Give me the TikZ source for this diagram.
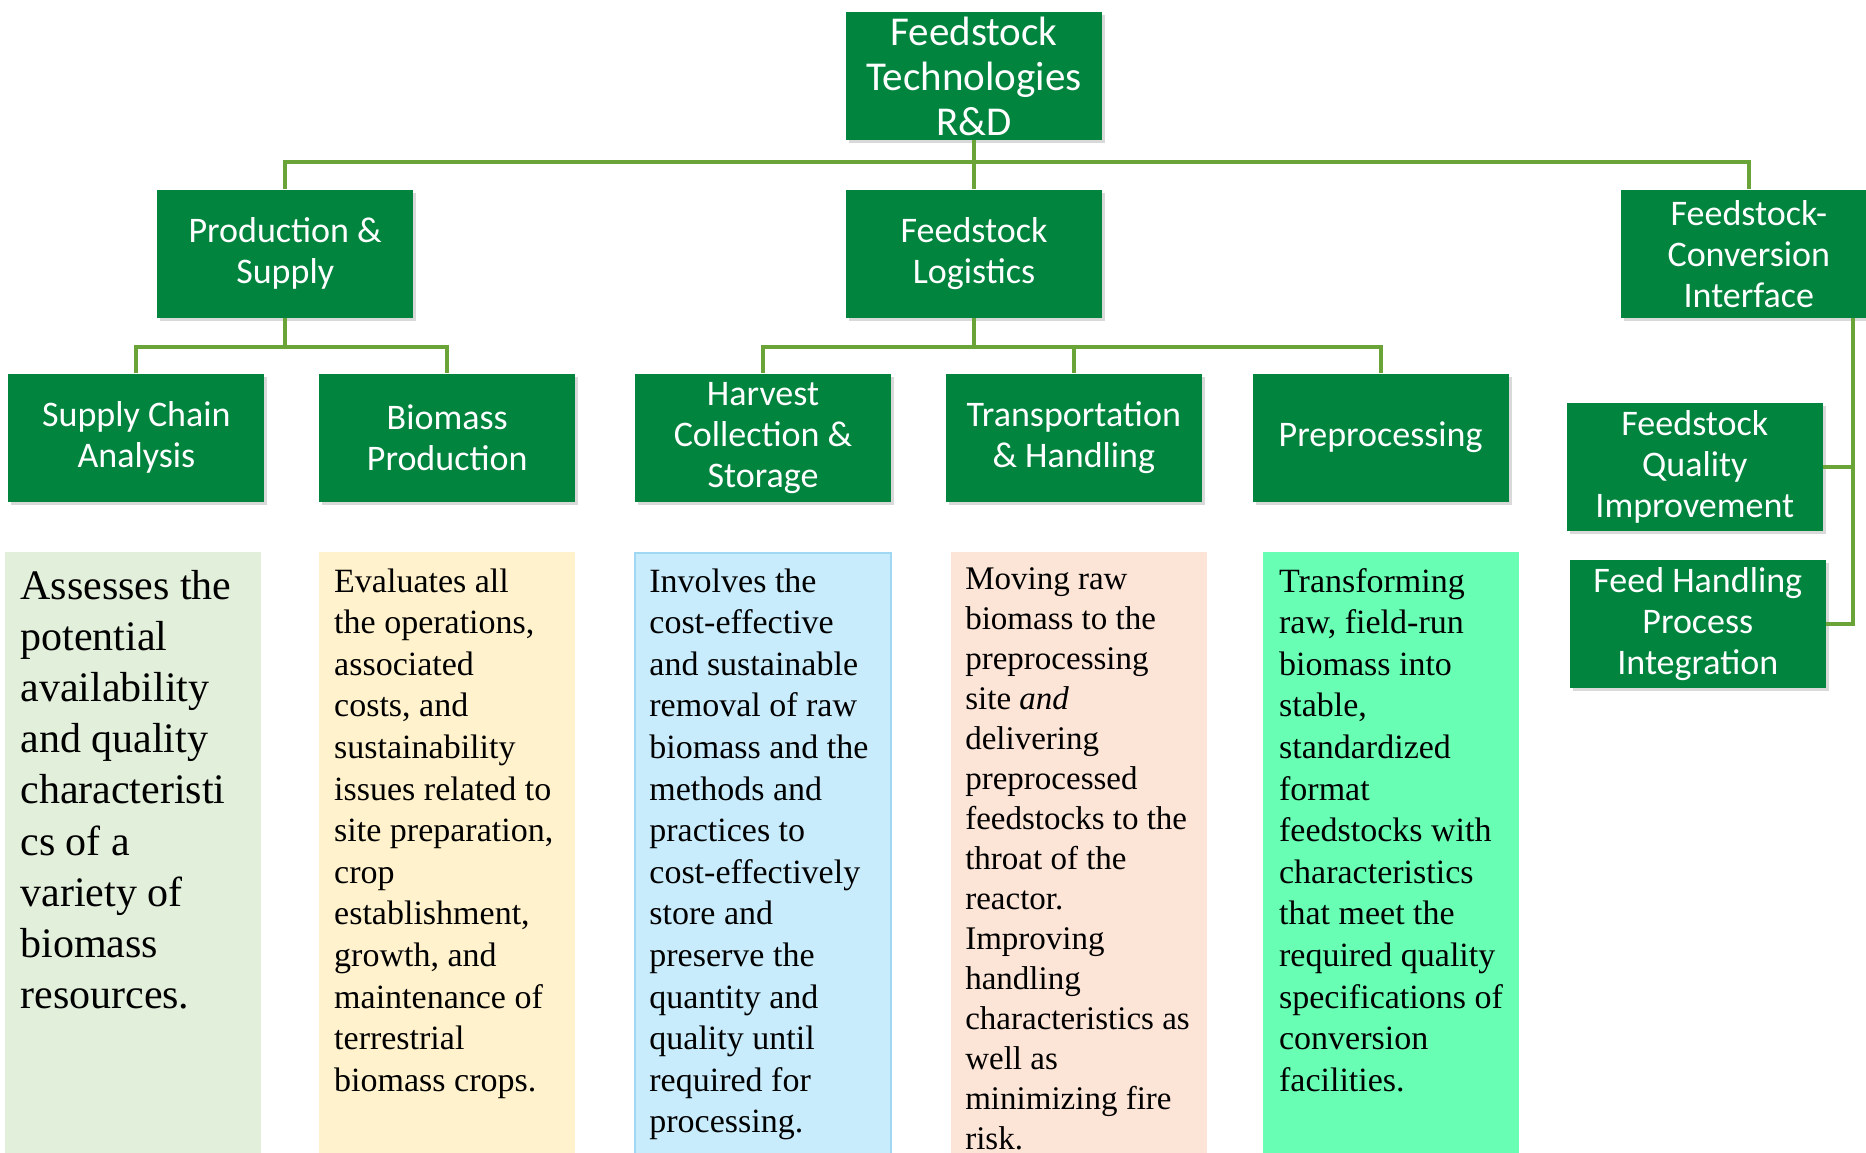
\documentclass[tikz,border=0pt]{standalone}
\usepackage{fontspec}
\setmainfont{Liberation Serif}
\newfontfamily\calfont{Carlito}
\usepackage{xcolor}
\definecolor{boxgreen}{RGB}{0,132,62}
\definecolor{linkgreen}{RGB}{106,164,56}
\definecolor{panelA}{RGB}{226,239,218}
\definecolor{panelB}{RGB}{255,242,204}
\definecolor{panelC}{RGB}{200,236,252}
\definecolor{panelCline}{RGB}{160,216,244}
\definecolor{panelD}{RGB}{252,228,214}
\definecolor{panelE}{RGB}{104,255,180}
\usetikzlibrary{positioning, shadows}

\begin{document}
\begin{tikzpicture}
[x=0.5pt, y=-0.5pt,
 tbox/.style={rectangle, fill=boxgreen, text=white,
 minimum width=128pt, minimum height=64pt, inner sep=0pt, align=center,
 font=\calfont\fontsize{18}{20.5}\selectfont,
 drop shadow={shadow xshift=1.5pt, shadow yshift=-1.5pt, opacity=0.3}},
 topbox/.style={tbox, font=\calfont\fontsize{20.5}{22.5}\selectfont},
 link/.style={draw=linkgreen, line width=2pt},
 panel/.style={rectangle, minimum width=128pt, minimum height=301pt, inner sep=0pt},
 blurb/.style={anchor=base west, inner sep=0pt, align=left,
 font=\fontsize{17}{20.8}\selectfont},
]
\useasboundingbox (0,0) rectangle (1866,1152);

\node[topbox] (top) at (974,76) {Feedstock\\Technologies\\R\&D};
\node[tbox, below=24.5pt of top] (logi) {Feedstock\\Logistics};
\node[tbox, left=216pt of logi] (prod) {Production \&\\Supply};
\node[tbox, right=259pt of logi] (fci) {Feedstock-\\Conversion\\Interface};

\node[tbox, below=27.5pt of logi, xshift=-105.5pt] (hcs) {Harvest\\Collection \&\\Storage};
\node[tbox, right=27pt of hcs] (th) {Transportation\\\& Handling};
\node[tbox, right=25pt of th] (pre) {Preprocessing};
\node[tbox, left=29.5pt of hcs] (bp) {Biomass\\Production};
\node[tbox, left=27pt of bp] (sca) {Supply Chain\\Analysis};

\node[tbox, below=42pt of fci, xshift=-27pt] (fqi) {Feedstock\\Quality\\Improvement};
\node[tbox, below=14.5pt of fqi, xshift=1.5pt] (fhpi) {Feed Handling\\Process\\Integration};

\draw[link] (top.south) -- (logi.north);
\draw[link] (top.south) -- ++(0,22) -| (prod.north);
\draw[link] (top.south) -- ++(0,22) -| (fci.north);
\draw[link] (prod.south) -- ++(0,29) -| (sca.north);
\draw[link] (prod.south) -- ++(0,29) -| (bp.north);
\draw[link] (logi.south) -- ++(0,29) -| (hcs.north);
\draw[link] (logi.south) -- ++(0,29) -| (th.north);
\draw[link] (logi.south) -- ++(0,29) -| (pre.north);
\draw[link] ([xshift=-12pt]fci.south east) |- (fqi.east);
\draw[link] ([xshift=-12pt]fci.south east) |- (fhpi.east);

% description panels (text placed by the baseline of its last line)
\node[panel, fill=panelA, below=25pt of sca, xshift=-1.5pt] (psca) {};
\node[panel, fill=panelB, below=25pt of bp] (pbp) {};
\node[panel, fill=panelC, draw=panelCline, line width=1pt, below=25pt of hcs] (phcs) {};
\node[panel, fill=panelD, below=25pt of th, xshift=2.75pt] (pth) {};
\node[panel, fill=panelE, below=25pt of pre, xshift=5.25pt] (ppre) {};

\node[blurb, font=\fontsize{21}{25.6}\selectfont] (tsca) at ([shift={(7.5pt,-228.3pt)}]psca.north west)
 {Assesses the\\potential\\availability\\and quality\\characteristi\\cs of a\\variety of\\biomass\\resources.};
\node[blurb] (tbp) at ([shift={(7.5pt,-269.6pt)}]pbp.north west)
 {Evaluates all\\the operations,\\associated\\costs, and\\sustainability\\issues related to\\site preparation,\\crop\\establishment,\\growth, and\\maintenance of\\terrestrial\\biomass crops.};
\node[blurb] (thcs) at ([shift={(7.5pt,-290.4pt)}]phcs.north west)
 {Involves the\\cost-effective\\and sustainable\\removal of raw\\biomass and the\\methods and\\practices to\\cost-effectively\\store and\\preserve the\\quantity and\\quality until\\required for\\processing.};
\node[blurb, font=\fontsize{16.5}{20}\selectfont] (tth) at ([shift={(7pt,-298.5pt)}]pth.north west)
 {Moving raw\\biomass to the\\preprocessing\\site \emph{and}\\delivering\\preprocessed\\feedstocks to the\\throat of the\\reactor.\\Improving\\handling\\characteristics as\\well as\\minimizing fire\\risk.};
\node[blurb] (tpre) at ([shift={(8pt,-269.6pt)}]ppre.north west)
 {Transforming\\raw, field-run\\biomass into\\stable,\\standardized\\format\\feedstocks with\\characteristics\\that meet the\\required quality\\specifications of\\conversion\\facilities.};
\end{tikzpicture}
\end{document}
